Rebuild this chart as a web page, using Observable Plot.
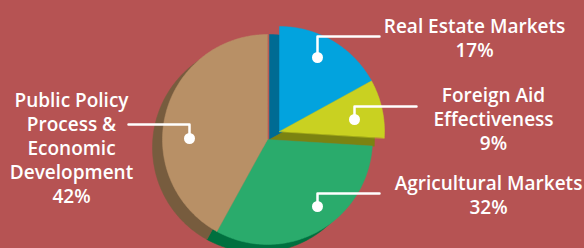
<!DOCTYPE html>
<html>
<head>
<meta charset="utf-8">
<script src="https://cdn.jsdelivr.net/npm/d3@7"></script>
<script src="https://cdn.jsdelivr.net/npm/@observablehq/plot@0.6"></script>
<style>
  html, body { margin: 0; padding: 0; background: #b65353; }
  #chart svg { display: block; }
</style>
</head>
<body>
<div id="chart"></div>
<script>
// ---- data ----
const categories = ["Real Estate Markets", "Foreign Aid Effectiveness", "Agricultural Markets", "Public Policy Process & Economic Development"];
const values = [17, 9, 32, 42];
const labelLines = [
  ["Real Estate Markets", "17%"],
  ["Foreign Aid", "Effectiveness", "9%"],
  ["Agricultural Markets", "32%"],
  ["Public Policy", "Process &", "Economic", "Development", "42%"]
];
const topColors = ["#02a3de", "#c9d121", "#2aab6c", "#b89066"];
const sideColors = ["#006b93", "#7b8311", "#00703f", "#775c3e"];

// ---- layout ----
const W = 584, H = 248;
const cx = 267, cy = 139, r = 105;
const explode = [[12, -8], [12, -8], [0, 0], [0, 0]];
const shadow = [-10, 8];
const labelPos = [[474, 36.6], [493, 117.6], [488, 193.6], [71, 146.6]];
const dots = [[317, 57], [354, 119], [317, 206], [189, 138]];
const elbows = [[317, 36], [354, 106], [317, 193], [189, 124]];
const ends = [[379, 36], [416, 106], [379, 193], [128, 124]];

const arcs = d3.pie().sort(null).value(d => d)(values);

function slicePoints(a, dx, dy) {
  const pts = [{x: cx + dx, y: cy + dy}];
  const n = Math.max(8, Math.ceil((a.endAngle - a.startAngle) / (Math.PI / 180)));
  for (let k = 0; k <= n; k++) {
    const t = a.startAngle + (a.endAngle - a.startAngle) * k / n;
    pts.push({x: cx + dx + r * Math.sin(t), y: cy + dy - r * Math.cos(t)});
  }
  return pts;
}

const marks = [];
arcs.forEach((a, i) => {
  const [ex, ey] = explode[i];
  marks.push(Plot.line(slicePoints(a, ex + shadow[0], ey + shadow[1]), {
    x: "x", y: "y", curve: "linear-closed", fill: sideColors[i], stroke: sideColors[i], strokeWidth: 0.5
  }));
});
arcs.forEach((a, i) => {
  const [ex, ey] = explode[i];
  marks.push(Plot.line(slicePoints(a, ex, ey), {
    x: "x", y: "y", curve: "linear-closed", fill: topColors[i], stroke: topColors[i], strokeWidth: 0.5
  }));
});

const leaderRows = [];
categories.forEach((c, i) => {
  [dots[i], elbows[i], ends[i]].forEach(p => leaderRows.push({cat: c, x: p[0], y: p[1]}));
});
marks.push(Plot.line(leaderRows, {x: "x", y: "y", z: "cat", stroke: "white", strokeWidth: 2.5}));
marks.push(Plot.dot(categories.map((c, i) => ({cat: c, x: dots[i][0], y: dots[i][1]})), {
  x: "x", y: "y", r: 5.5, fill: "white"
}));
marks.push(Plot.text(categories.map((c, i) => ({
  text: labelLines[i].join("\n"), x: labelPos[i][0], y: labelPos[i][1]
})), {
  x: "x", y: "y", text: "text", fill: "white", textAnchor: "middle", lineAnchor: "middle",
  lineHeight: 1.26, fontSize: 19, fontWeight: 600, fontFamily: "Open Sans"
}));

const chart = Plot.plot({
  width: W, height: H,
  margin: 0,
  x: {domain: [0, W], range: [0, W], axis: null},
  y: {domain: [0, H], range: [0, H], axis: null},
  style: {background: "#b65353", fontFamily: "Open Sans"},
  marks
});
document.getElementById("chart").appendChild(chart);
</script>
</body>
</html>
